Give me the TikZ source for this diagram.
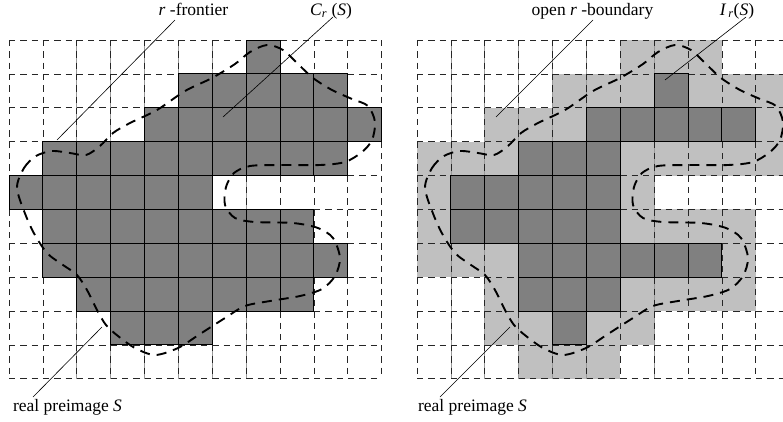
\documentclass[tikz,border=0pt]{standalone}
\usepackage{fontspec}
\setmainfont{Liberation Serif}

\newlength{\du}
\setlength{\du}{1pt}
\newcommand{\cs}{33.88}
% one grid cell, #1 = left edge of the grid, #2 = column, #3 = row
\newcommand{\cellbox}[3]{({#1+#2*\cs},{40+#3*\cs}) rectangle ++(\cs,\cs)}

\definecolor{cellgray}{rgb}{0.500000, 0.500000, 0.500000}
\definecolor{bndgray}{rgb}{0.752941, 0.752941, 0.752941}

\tikzset{
  darkcell/.style={fill=cellgray, draw=black, line width=0.9\du},
  lightcell/.style={fill=bndgray},
  gridline/.style={draw=black!85, line width=0.75\du, dash pattern=on 6.3\du off 5\du},
  softline/.style={draw=black!40, line width=0.6\du},
  preimage/.style={draw=black, line width=1.9\du, dash pattern=on 10\du off 7\du},
  leader/.style={draw=black, line width=0.6\du},
  lbl/.style={inner sep=0pt, anchor=base, font=\fontsize{17.5}{20}\selectfont},
}

\begin{document}
\begin{tikzpicture}[x=\du, y=\du]
\pgftransformyscale{-1.000000}
\useasboundingbox (0,0) rectangle (783,421);
\clip (0,0) rectangle (783,421);

% boundary cells, right grid
\foreach \r/\cols in {0/{6,7,8}, 1/{4,5,6,8,9,10}, 2/{2,3,4,10}, 3/{0,1,2,6,7,8,9,10},
                      4/{0,6}, 5/{0,6,7,8,9}, 6/{0,1,2,9}, 7/{2,6,7,8,9}, 8/{2,3,5,6}, 9/{3,4,5}}
  \foreach \c in \cols
    \path[lightcell] \cellbox{417}{\c}{\r};

% solid verticals under the dashes
\foreach \i in {2,...,7}
  \draw[softline] ({9+\i*\cs},40) -- ++(0,10*\cs);
\foreach \i in {1,...,5,7}
  \draw[softline] ({417+\i*\cs},40) -- ++(0,10*\cs);

% dashed grids
\foreach \gx in {9,417}{
  \foreach \i in {0,...,11}
    \draw[gridline] ({\gx+\i*\cs},40) -- ++(0,10*\cs);
  \foreach \j in {0,...,10}
    \draw[gridline] (\gx,{40+\j*\cs}) -- ++(11*\cs,0);
}

% C_r(S), left grid
\foreach \r/\cols in {0/{7}, 1/{5,...,9}, 2/{4,...,10}, 3/{1,...,9}, 4/{0,...,5},
                      5/{1,...,8}, 6/{1,...,9}, 7/{2,...,8}, 8/{3,4,5}}
  \foreach \c in \cols
    \draw[darkcell] \cellbox{9}{\c}{\r};

% I_r(S), right grid
\foreach \r/\cols in {1/{7}, 2/{5,...,9}, 3/{3,4,5}, 4/{1,...,5}, 5/{1,...,5},
                      6/{3,...,8}, 7/{3,4,5}, 8/{4}}
  \foreach \c in \cols
    \draw[darkcell] \cellbox{417}{\c}{\r};

% real preimage S
\foreach \gx in {0,408}
  \draw[preimage, shift={(\gx,0)}] plot[smooth cycle, tension=0.5] coordinates {
    (17,188) (24,168) (36,156) (52,151) (70,153) (86,155) (100,146) (113,133)
    (130,123) (157,110) (185,91) (212,78) (235,64) (250,52) (267,45) (283,50)
    (298,64) (313,78) (332,90) (352,99) (368,106) (375,122) (372,140) (362,152)
    (345,162) (320,165) (280,165) (250,166) (234,173) (226,187) (225,205) (235,218)
    (255,222) (293,223) (318,228) (333,238) (340,258) (335,276) (322,289) (300,296)
    (270,301) (245,306) (225,318) (200,334) (178,348) (155,355) (135,348) (118,336)
    (106,325) (97,310) (87,290) (77,275) (63,265) (48,254) (36,237) (26,216)};

% labels
\node[lbl] (lblfrontier) at (193.5,15) {\textit{r} -frontier};
\node[lbl] (lblcr) at (331,15) {\textit{C}\textsubscript{\textit{r}} (\textit{S})};
\node[lbl] (lblrealleft) at (67.5,411.5) {real preimage \textit{S}};
\node[lbl] (lblboundary) at (592.5,15) {open \textit{r} -boundary};
\node[lbl] (lblir) at (737,15) {\textit{I}\textsubscript{\,\textit{r}}(\textit{S})};
\node[lbl] (lblrealright) at (472.5,411.5) {real preimage \textit{S}};

\coordinate (frontier-top) at (175,20);
\coordinate (frontier-foot) at (57,140);
\coordinate (cr-top) at (333,17);
\coordinate (cr-foot) at (223,117);
\coordinate (realleft-foot) at (102,327);
\coordinate (realleft-end) at (33,397);
\coordinate (boundary-top) at (593,20);
\coordinate (boundary-foot) at (496,117);
\coordinate (ir-top) at (746,17);
\coordinate (ir-foot) at (665,80);
\coordinate (realright-foot) at (510,327);
\coordinate (realright-end) at (440,397);

\draw[leader] (frontier-top) -- (frontier-foot);
\draw[leader] (cr-top) -- (cr-foot);
\draw[leader] (realleft-foot) -- (realleft-end);
\draw[leader] (boundary-top) -- (boundary-foot);
\draw[leader] (ir-top) -- (ir-foot);
\draw[leader] (realright-foot) -- (realright-end);
\end{tikzpicture}
\end{document}
